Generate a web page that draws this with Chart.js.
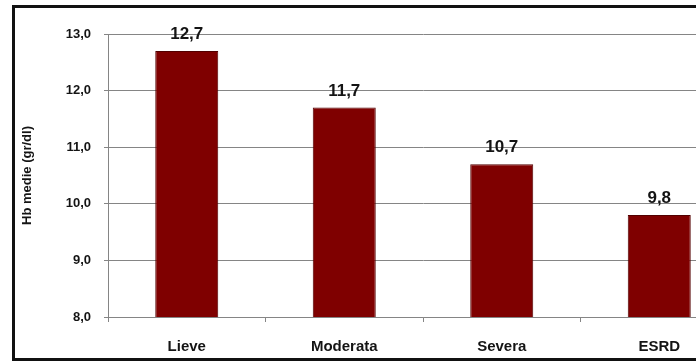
<!DOCTYPE html>
<html>
<head>
<meta charset="utf-8">
<script src="https://cdn.jsdelivr.net/npm/chart.js@4.4.1/dist/chart.umd.min.js"></script>
<style>
	html, body { margin: 0; padding: 0; background: #fff; overflow: hidden; }
	body { width: 696px; height: 362px; position: relative; }
	#wrap { position: absolute; left: 0; top: 0; width: 760px; height: 362px; }
	#frame { position: absolute; left: 12px; top: 5px; width: 800px; height: 350px; border: 3px solid #111; pointer-events: none; }
</style>
</head>
<body>
<div id="frame"></div>
<div id="wrap"><canvas id="hbChart"></canvas></div>
<script>
const categorie = ["Lieve", "Moderata", "Severa", "ESRD"];
const hbMedia = [12.7, 11.7, 10.7, 9.8];
const yTicks = [8, 9, 10, 11, 12, 13];

const font = "'Liberation Sans', Arial, sans-serif";
const fmt = (v) => v.toFixed(1).replace(".", ",");

// etichette col valore sopra ogni barra
const valoriSopra = {
	id: "valoriSopra",
	afterDatasetsDraw(chart) {
		const ctx = chart.ctx;
		const meta = chart.getDatasetMeta(0);
		ctx.save();
		ctx.font = "bold 17px " + font;
		ctx.fillStyle = "#141414";
		ctx.textAlign = "center";
		ctx.textBaseline = "bottom";
		meta.data.forEach((bar, i) => {
			ctx.fillText(fmt(hbMedia[i]), bar.x, bar.y - 8);
		});
		ctx.restore();
	},
};

const ctx = document.getElementById("hbChart").getContext("2d");

const chart = new Chart(ctx, {
	type: "bar",
	data: {
		labels: categorie,
		datasets: [
			{
				data: hbMedia,
				backgroundColor: "#7f0000",
				borderColor: "#520000",
				borderWidth: 1,
				barPercentage: 0.4,
				categoryPercentage: 1,
			},
		],
	},
	options: {
		responsive: true,
		maintainAspectRatio: false,
		animation: false,
		layout: {
			padding: { top: 34, right: 22, left: 0, bottom: 0 },
		},
		plugins: {
			legend: { display: false },
			tooltip: { enabled: false },
		},
		scales: {
			y: {
				min: 8,
				max: 13,
				afterBuildTicks: (scale) => {
					scale.ticks = yTicks.map((v) => ({ value: v }));
				},
				afterFit: (scale) => {
					scale.width = 108;
				},
				ticks: {
					callback: (v) => fmt(v),
					font: { family: font, size: 13, weight: "bold" },
					color: "#141414",
					padding: 13,
				},
				grid: {
					color: "#858585",
					tickLength: 4,
				},
				border: { color: "#858585" },
				title: {
					display: true,
					text: "Hb medie (gr/dl)",
					font: { family: font, size: 13, weight: "bold" },
					color: "#141414",
					padding: { top: 20, bottom: 0 },
				},
			},
			x: {
				afterFit: (scale) => {
					scale.height = 45;
				},
				ticks: {
					font: { family: font, size: 15, weight: "bold" },
					color: "#141414",
					padding: 16,
				},
				grid: {
					drawOnChartArea: false,
					color: "#858585",
					tickLength: 5,
				},
				border: { color: "#858585" },
			},
		},
	},
	plugins: [valoriSopra],
});
</script>
</body>
</html>
